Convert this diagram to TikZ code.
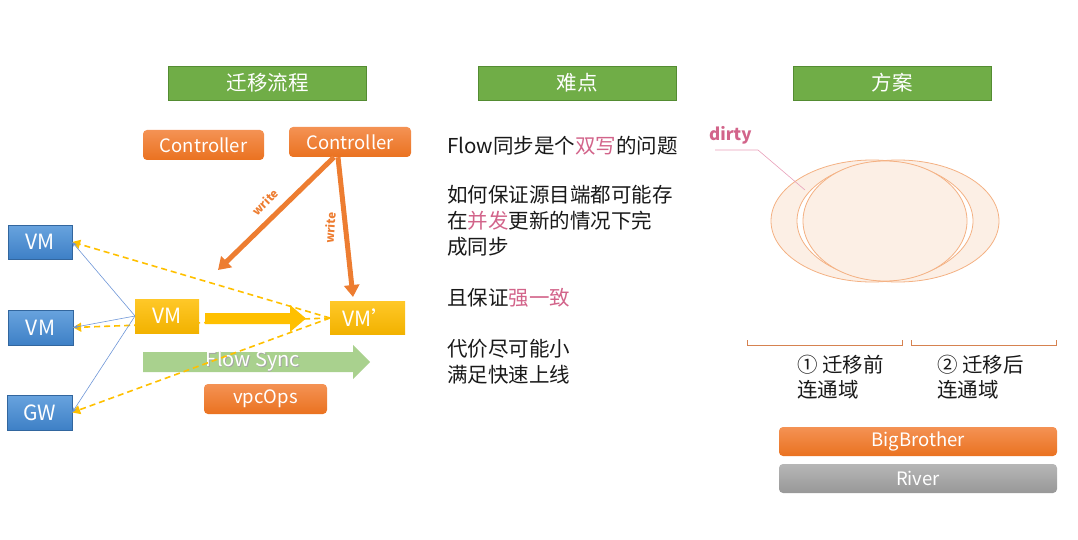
\documentclass[tikz,border=0pt]{standalone}
\usepackage{fontspec}
\setmainfont{Noto Sans CJK SC}
\usetikzlibrary{arrows.meta,calc}
\definecolor{hgreen}{RGB}{112,173,71}
\definecolor{hgreend}{RGB}{84,140,50}
\definecolor{orgT}{RGB}{244,146,84}
\definecolor{orgB}{RGB}{234,114,32}
\definecolor{orgA}{RGB}{237,125,49}
\definecolor{bluT}{RGB}{104,163,222}
\definecolor{bluB}{RGB}{62,128,198}
\definecolor{yelT}{RGB}{255,200,40}
\definecolor{yelB}{RGB}{242,178,0}
\definecolor{yelA}{RGB}{255,192,0}
\definecolor{gryT}{RGB}{182,182,182}
\definecolor{gryB}{RGB}{152,152,152}
\definecolor{flowg}{RGB}{169,209,142}
\definecolor{pinkt}{RGB}{210,100,138}
\definecolor{pinkl}{RGB}{232,160,185}
\definecolor{elfill}{RGB}{252,239,229}
\definecolor{elline}{RGB}{244,177,131}
\definecolor{brk}{RGB}{214,130,80}
\definecolor{thinblue}{RGB}{110,150,215}
\begin{document}
\begin{tikzpicture}[x=1pt,y=-1pt,
  header/.style={draw=hgreend,fill=hgreen,text=white,font=\fontsize{20.5}{23}\selectfont,minimum width=198pt,minimum height=34pt,inner sep=0pt},
  orgbox/.style={rounded corners=4pt,top color=orgT,bottom color=orgB,draw=none,text=white,font=\fontsize{18.5}{21}\selectfont,inner sep=0pt},
  blubox/.style={top color=bluT,bottom color=bluB,draw=bluB!80!black,line width=0.3pt,text=white,font=\fontsize{21}{24}\selectfont,minimum width=65pt,minimum height=35pt,inner sep=0pt},
  yelbox/.style={top color=yelT,bottom color=yelB,draw=none,text=white,font=\fontsize{21}{24}\selectfont,minimum height=34pt,inner sep=0pt},
  grybox/.style={rounded corners=4pt,top color=gryT,bottom color=gryB,draw=none,text=white,font=\fontsize{18.5}{21}\selectfont,inner sep=0pt},
  dashcon/.style={draw=yelA,dashed,dash pattern=on 6pt off 4pt,line width=1.6pt,-{Triangle[width=9pt,length=8pt]}},
  bluecon/.style={draw=thinblue,line width=0.6pt,-{Stealth[width=4pt,length=5pt]}},
  writearrow/.style={draw=orgA,line width=5pt,-{Triangle[width=15pt,length=12pt]}},
  writelabel/.style={text=orgA,font=\bfseries\fontsize{11.5}{12}\selectfont,inner sep=0pt},
  body/.style={anchor=west,font=\fontsize{20.5}{24}\selectfont,inner sep=0pt,text=black!90}
]
\useasboundingbox (0,0) rectangle (1078,540);

% headers
\node[header] (h1) at (267.5,83) {迁移流程};
\node[header] (h2) at (577,83) {难点};
\node[header] (h3) at (892,83) {方案};

% controllers
\node[orgbox,minimum width=121pt,minimum height=30pt] (ctrl1) at (203.5,145) {Controller};
\node[orgbox,minimum width=122pt,minimum height=30pt] (ctrl2) at (350,142) {Controller};

% blue boxes
\node[blubox,minimum width=64pt,minimum height=34pt] (vmA) at (40,242) {VM};
\node[blubox] (vmB) at (40.5,327.5) {VM};
\node[blubox] (gw) at (39.5,412.5) {GW};

% green flow sync arrow
\fill[flowg] (143,352) -- (353,352) -- (353,345) -- (370,362) -- (353,379) -- (353,372) -- (143,372) -- cycle;
\node[text=black!35,font=\fontsize{20}{23}\selectfont] (fsshadow) at (253.8,361.8) {Flow Sync};
\node[text=white,font=\fontsize{20}{23}\selectfont] (fs) at (253,361) {Flow Sync};

\coordinate (dstw) at (330,318);
\coordinate (srcw) at (135,316);

% dashed connectors
\draw[dashcon] (dstw) -- (vmA.east);
\draw[dashcon] (dstw) -- (vmB.east);
\draw[dashcon] (dstw) -- (gw.east);

% blue connectors
\draw[bluecon] (srcw) -- (vmA.east);
\draw[bluecon] (srcw) -- (vmB.east);
\draw[bluecon] (srcw) -- (gw.east);

% yellow boxes
\node[yelbox,minimum width=64pt] (vmsrc) at (167,316) {VM};
\node[yelbox,minimum width=75pt,minimum height=33pt] (vmdst) at (367.5,317.5) {VM’};

% yellow big arrow
\fill[yelA] (205,313) -- (290,313) -- (290,305) -- (306,318.5) -- (290,332) -- (290,324) -- (205,324) -- cycle;

% vpcOps
\node[orgbox,minimum width=123pt,minimum height=30pt] (vpc) at (265.5,399) {vpcOps};

% write arrows
\coordinate (w1end) at (218,270);
\coordinate (w2end) at (353,297);
\draw[writearrow] ([xshift=-16pt]ctrl2.south) -- (w1end);
\draw[writearrow] ([xshift=-12pt]ctrl2.south) -- (w2end);
\node[writelabel,rotate=45] (wl1) at (265,202) {write};
\node[writelabel,rotate=86] (wl2) at (330,228) {write};

% middle text
\node[body] (t1) at (447,146) {Flow同步是个\textcolor{pinkt}{双写}的问题};
\node[body] (t2) at (447,195) {如何保证源目端都可能存};
\node[body] (t3) at (447,221) {在\textcolor{pinkt}{并发}更新的情况下完};
\node[body] (t4) at (447,247) {成同步};
\node[body] (t5) at (447,298) {且保证\textcolor{pinkt}{强一致}};
\node[body] (t6) at (447,349) {代价尽可能小};
\node[body] (t7) at (447,375) {满足快速上线};

% ellipses
\fill[elfill] (872,221) ellipse [x radius=101, y radius=61];
\fill[elfill] (898,221) ellipse [x radius=101, y radius=61];
\begin{scope}
  \clip (872,221) ellipse [x radius=101, y radius=61];
  \fill[white] (898,221) ellipse [x radius=101, y radius=61];
\end{scope}
\draw[elline,line width=0.8pt] (872,221) ellipse [x radius=101, y radius=61];
\draw[elline,line width=0.8pt] (898,221) ellipse [x radius=101, y radius=61];
\draw[elline,fill=elfill,line width=0.8pt] (885,221) ellipse [x radius=82, y radius=60];

% dirty label
\node[text=pinkt,font=\bfseries\fontsize{17}{19}\selectfont,anchor=west,inner sep=0pt] (dirty) at (709,135) {dirty};
\coordinate (dl1) at (715,150);
\coordinate (dl2) at (758,150);
\coordinate (dl3) at (805,190);
\draw[pinkl,line width=0.6pt] (dl1) -- (dl2) -- (dl3);

% brackets
\coordinate (b1a) at (747,340);
\coordinate (b1b) at (902,340);
\coordinate (b2a) at (911,340);
\coordinate (b2b) at (1056,340);
\draw[brk,line width=0.8pt] (b1a) -- ++(0,5) -- ($(b1b)+(0,5)$) -- (b1b);
\draw[brk,line width=0.8pt] (b2a) -- ++(0,5) -- ($(b2b)+(0,5)$) -- (b2b);

% labels
\node[body] (r1) at (797,365) {① 迁移前};
\node[body] (r2) at (797,390) {连通域};
\node[body] (r3) at (937,365) {② 迁移后};
\node[body] (r4) at (937,390) {连通域};

% bars
\node[orgbox,minimum width=278pt,minimum height=29pt] (bb) at (918,441.5) {BigBrother};
\node[grybox,minimum width=278pt,minimum height=29pt] (river) at (918,478.5) {River};
\end{tikzpicture}
\end{document}
